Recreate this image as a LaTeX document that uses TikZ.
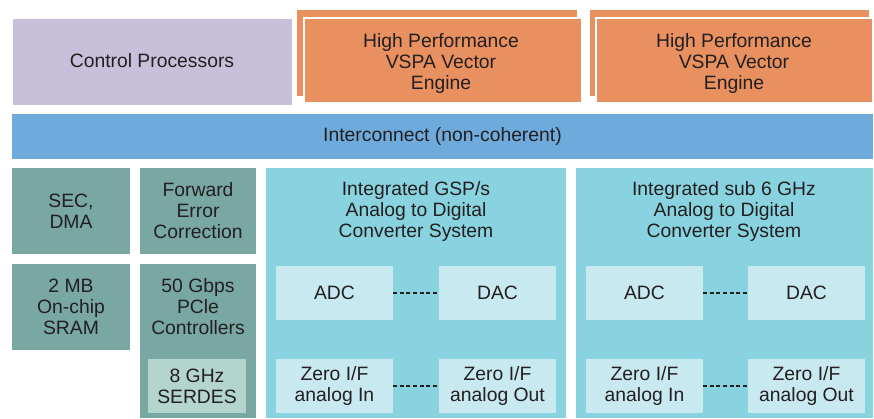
\documentclass[tikz,border=0pt]{standalone}
\usepackage{fontspec}
\setmainfont{Liberation Sans}
\usetikzlibrary{fit}
\definecolor{lav}{HTML}{C8C0DA}
\definecolor{org}{HTML}{E8905F}
\definecolor{blu}{HTML}{6EABDC}
\definecolor{tea}{HTML}{78A8A1}
\definecolor{cya}{HTML}{88D3DF}
\definecolor{lcy}{HTML}{C8E9F0}
\definecolor{ser}{HTML}{B3D5CE}
\definecolor{txt}{HTML}{231F20}
\tikzset{
  blk/.style={inner sep=0pt, outer sep=0pt},
  lbl/.style={inner sep=0pt, outer sep=0pt, align=center, text=txt,
    font=\fontsize{14.5}{15.75}\selectfont},
  front/.style={blk, fill=org, draw=white, line width=1.5pt},
  dashlink/.style={draw=txt, line width=0.8pt, dash pattern=on 3pt off 2pt}
}
\begin{document}
\begin{tikzpicture}[x=0.75pt,y=-0.75pt]
\useasboundingbox[fill=white] (0,0) rectangle (874,418);
% control processors
\node[blk, fill=lav, fit={(13,19) (292,105)}] (cp) {};
\node[lbl] (cpt) at (152,61) {Control Processors};
% VSPA engines
\node[blk, fill=org, fit={(297,10) (577,96)}] (vback1) {};
\node[front, fit={(304,18) (582,103)}] (v1) {};
\node[lbl] (v1t) at (441,63) {High Performance\\VSPA Vector\\Engine};
\node[blk, fill=org, fit={(590,10) (869,96)}] (vback2) {};
\node[front, fit={(596,18) (873,103)}] (v2) {};
\node[lbl] (v2t) at (734,63) {High Performance\\VSPA Vector\\Engine};
% interconnect
\node[blk, fill=blu, fit={(12,114) (873,159)}] (ic) {};
\node[lbl] (ict) at (ic.center) {Interconnect (non-coherent)};
% left column
\node[blk, fill=tea, fit={(12,168) (130,254)}] (sec) {};
\node[lbl] (sect) at (sec.center) {SEC,\\DMA};
\node[blk, fill=tea, fit={(140,168) (256,254)}] (fec) {};
\node[lbl] (fect) at (fec.center) {Forward\\Error\\Correction};
\node[blk, fill=tea, fit={(12,264) (130,350)}] (sram) {};
\node[lbl] (sramt) at (sram.center) {2 MB\\On-chip\\SRAM};
\node[blk, fill=tea, fit={(140,264) (256,418)}] (pcie) {};
\node[lbl] (pcietext) at (198,307) {50 Gbps\\PCle\\Controllers};
\node[blk, fill=ser, fit={(148,359) (246,413)}] (serdes) {};
\node[lbl] (serdest) at (serdes.center) {8 GHz\\SERDES};
% GSP/s panel
\node[blk, fill=cya, fit={(266,168) (566,418)}] (gsp) {};
\node[lbl] (gsptitle) at (416,211) {Integrated GSP/s\\Analog to Digital\\Converter System};
\node[blk, fill=lcy, fit={(276,266) (393,320)}] (adc1) {};
\node[lbl] at (adc1.center) {ADC};
\node[blk, fill=lcy, fit={(439,266) (556,320)}] (dac1) {};
\node[lbl] at (dac1.center) {DAC};
\node[blk, fill=lcy, fit={(276,359) (393,413)}] (zin1) {};
\node[lbl] at (zin1.center) {Zero I/F\\analog In};
\node[blk, fill=lcy, fit={(439,359) (556,413)}] (zout1) {};
\node[lbl] at (zout1.center) {Zero I/F\\analog Out};
\draw[dashlink] (adc1) -- (dac1);
\draw[dashlink] (zin1) -- (zout1);
% sub 6 GHz panel
\node[blk, fill=cya, fit={(576,168) (873,418)}] (sub) {};
\node[lbl] (subtitle) at (724,211) {Integrated sub 6 GHz\\Analog to Digital\\Converter System};
\node[blk, fill=lcy, fit={(586,266) (703,320)}] (adc2) {};
\node[lbl] at (adc2.center) {ADC};
\node[blk, fill=lcy, fit={(748,266) (865,320)}] (dac2) {};
\node[lbl] at (dac2.center) {DAC};
\node[blk, fill=lcy, fit={(586,359) (703,413)}] (zin2) {};
\node[lbl] at (zin2.center) {Zero I/F\\analog In};
\node[blk, fill=lcy, fit={(748,359) (865,413)}] (zout2) {};
\node[lbl] at (zout2.center) {Zero I/F\\analog Out};
\draw[dashlink] (adc2) -- (dac2);
\draw[dashlink] (zin2) -- (zout2);
\end{tikzpicture}
\end{document}
